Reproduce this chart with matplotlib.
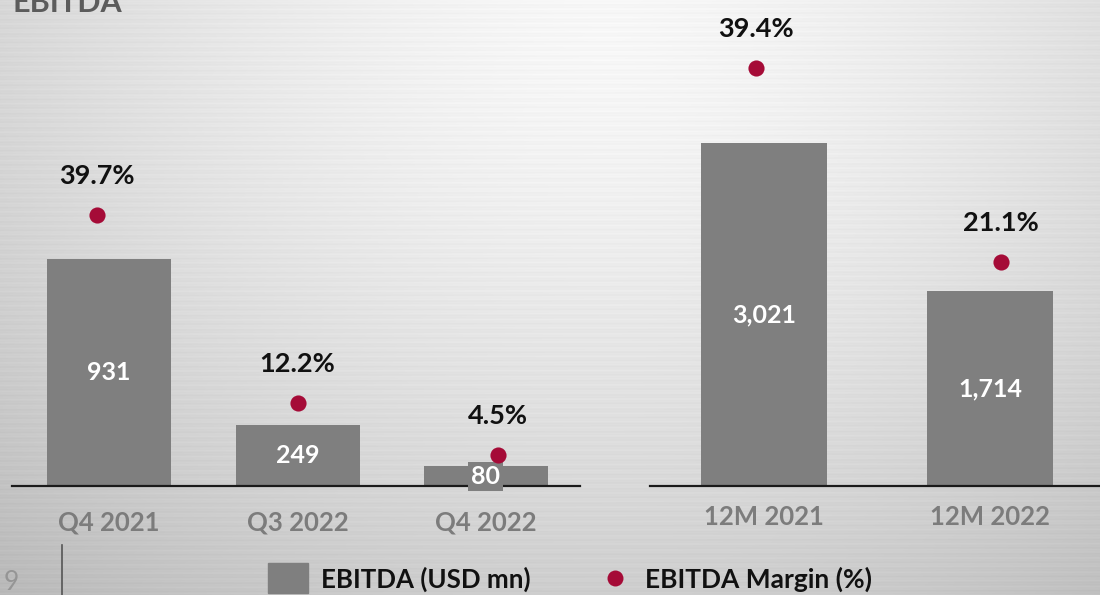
import numpy as np
import matplotlib
matplotlib.use("Agg")
import matplotlib.pyplot as plt

plt.rcParams['font.family'] = ['Lato', 'DejaVu Sans']

# ---- data ----
quarter_labels = ["Q4 2021", "Q3 2022", "Q4 2022"]
quarter_ebitda = [931, 249, 80]
quarter_margin = [39.7, 12.2, 4.5]

year_labels = ["12M 2021", "12M 2022"]
year_ebitda = [3021, 1714]
year_margin = [39.4, 21.1]

legend_labels = ["EBITDA (USD mn)", "EBITDA Margin (%)"]
title_text = "EBITDA"
page_number = "9"

# ---- styles ----
W, H = 1100, 595
BAR = "#7f7f7f"
DOT = "#a50b37"
TICK = "#7c7c7c"

fig = plt.figure(figsize=(W / 100, H / 100), dpi=100)

# background: brushed-metal style gradient
bg = fig.add_axes([0, 0, 1, 1])
yy, xx = np.mgrid[0:1:595j, 0:1:1100j]
dist = np.sqrt(((xx - 0.55) / 0.72) ** 2 + ((yy - 0.05) / 1.05) ** 2)
val = 0.97 - 0.19 * np.clip(dist, 0, 1.3) ** 1.5
rows = np.linspace(0, 1, 595)[:, None]
streak = 0.008 * np.sin(rows * 517.0) + 0.006 * np.sin(rows * 1311.0 + xx * 3.0)
val = np.clip(val + streak, 0, 1)
bg.imshow(np.dstack([val, val, val]), extent=[0, 1, 0, 1], origin="upper", aspect="auto")
bg.set_xlim(0, 1)
bg.set_ylim(0, 1)
bg.axis("off")


def fx(px):
    return px / W


def fy(py):
    return 1 - py / H


base_py = 486


def panel(x0, x1, centers_px, width_px, dot_shift_px, labels, values, margins,
          bar_px_per_unit, dot_px_per_pct, tick_pad):
    spacing = centers_px[1] - centers_px[0]
    ax = fig.add_axes([fx(x0), fy(base_py), fx(x1 - x0), base_py / H])
    ax.patch.set_alpha(0)
    xs = np.arange(len(labels))
    ax.set_xlim((x0 - centers_px[0]) / spacing, (x1 - centers_px[0]) / spacing)
    ax.set_ylim(0, base_py / bar_px_per_unit)
    bars = ax.bar(xs, values, width=width_px / spacing, color=BAR, zorder=2)
    for s in ["top", "right", "left"]:
        ax.spines[s].set_visible(False)
    ax.spines["bottom"].set_color("#1a1a1a")
    ax.spines["bottom"].set_linewidth(1.6)
    ax.spines["bottom"].set_zorder(3)
    ax.set_yticks([])
    ax.set_xticks(xs)
    ax.set_xticklabels(labels, fontsize=18.5, fontweight="bold", color=TICK)
    ax.tick_params(axis="x", length=0, pad=tick_pad)
    for b, v in zip(bars, values):
        txt = f"{v:,}"
        kw = {}
        if b.get_height() * bar_px_per_unit < 30:
            kw["bbox"] = dict(boxstyle="square,pad=0.12", fc=BAR, ec="none")
        ax.text(b.get_x() + b.get_width() / 2, v / 2, txt, ha="center", va="center",
                color="white", fontsize=18, fontweight="bold", zorder=4, **kw)
    ax2 = ax.twinx()
    ax2.set_ylim(0, base_py / dot_px_per_pct)
    ax2.axis("off")
    dx = np.array(dot_shift_px) / spacing
    ax2.scatter(xs + dx, margins, s=135, color=DOT, zorder=5, linewidths=0)
    for x, m in zip(xs + dx, margins):
        ax2.annotate(f"{m:.1f}%", (x, m), xytext=(0, 28), textcoords="offset points",
                     ha="center", va="center", fontsize=19.5, fontweight="bold",
                     color="#111111")
    return ax


panel(12, 580, [109, 297.5, 486], 124, [-12, 0, 12], quarter_labels, quarter_ebitda,
      quarter_margin, 0.244, 6.82, 18)
panel(650, 1100, [764, 990], 126, [-8, 11], year_labels, year_ebitda, year_margin,
      0.1135, 10.6, 14)

# title (cut off at top)
fig.text(fx(12), fy(12), title_text, fontsize=22, fontweight="bold", color="#5c5c5c",
         ha="left", va="baseline")

# page number and divider
fig.text(fx(4), fy(590), page_number, fontsize=19, color="#959595", ha="left",
         va="baseline")
fig.add_artist(plt.Line2D([fx(62), fx(62)], [fy(545), fy(595)], color="#555555", lw=1.2))

# legend
fig.add_artist(plt.Rectangle((fx(268), fy(593)), fx(40), 30 / H, color=BAR))
fig.text(fx(321), fy(579), legend_labels[0], fontsize=18.6, fontweight="bold",
         color="#111111", ha="left", va="center")
fig.add_artist(plt.Line2D([fx(615)], [fy(578)], marker="o", markersize=11.5,
                          color=DOT, markeredgewidth=0, linestyle="none"))
fig.text(fx(645), fy(579), legend_labels[1], fontsize=19, fontweight="bold",
         color="#111111", ha="left", va="center")

fig.savefig("out.png", dpi=100)
